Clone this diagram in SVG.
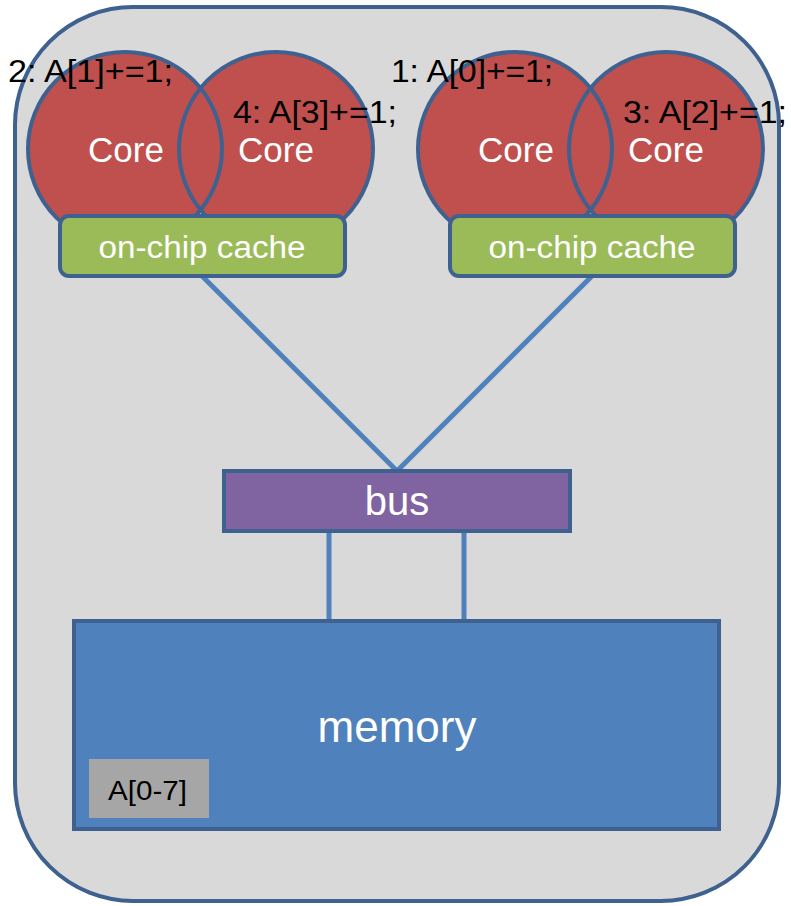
<svg xmlns="http://www.w3.org/2000/svg" width="791" height="906" viewBox="0 0 791 906">
<style>
.frame{fill:#D9D9D9;stroke:#3E6190;stroke-width:4}
.corefill{fill:#C0504D}
.coreline{fill:none;stroke:#3E6190;stroke-width:4}
.cache{fill:#9BBB59;stroke:#3E6190;stroke-width:4}
.bus{fill:#8064A2;stroke:#3E6190;stroke-width:4}
.mem{fill:#4F81BD;stroke:#3E6190;stroke-width:4}
.wire{stroke:#4F81BD;stroke-width:5;fill:none}
.wt{fill:#FFFFFF;font-family:"Liberation Sans",Arial,sans-serif;text-anchor:middle}
.bt{fill:#000000;font-family:"Liberation Sans",Arial,sans-serif}
</style>
<rect class="frame" x="15" y="7" width="764" height="894" rx="118" ry="118"/>
<g id="connectors">
<line class="wire" x1="202" y1="276" x2="397" y2="471"/>
<line class="wire" x1="592" y1="276" x2="397" y2="471"/>
<line class="wire" x1="329" y1="532" x2="329" y2="620"/>
<line class="wire" x1="464" y1="532" x2="464" y2="620"/>
</g>
<g id="chip-left">
<g id="core-2"><circle class="corefill" cx="125" cy="149" r="97"/></g>
<g id="core-4"><circle class="corefill" cx="276" cy="149" r="97"/></g>
<circle class="coreline" cx="125" cy="149" r="97"/>
<circle class="coreline" cx="276" cy="149" r="97"/>
<text class="wt" x="126" y="162" font-size="35">Core</text>
<text class="wt" x="276" y="162" font-size="35">Core</text>
<g id="cache-left">
<rect class="cache" x="60" y="216" width="285" height="60" rx="9"/>
<text class="wt" x="202" y="258" font-size="31" textLength="207" lengthAdjust="spacingAndGlyphs">on-chip cache</text>
</g>
</g>
<g id="chip-right">
<g id="core-1"><circle class="corefill" cx="515" cy="149" r="97"/></g>
<g id="core-3"><circle class="corefill" cx="666" cy="149" r="97"/></g>
<circle class="coreline" cx="515" cy="149" r="97"/>
<circle class="coreline" cx="666" cy="149" r="97"/>
<text class="wt" x="516" y="162" font-size="35">Core</text>
<text class="wt" x="666" y="162" font-size="35">Core</text>
<g id="cache-right">
<rect class="cache" x="450" y="216" width="285" height="60" rx="9"/>
<text class="wt" x="592" y="258" font-size="31" textLength="207" lengthAdjust="spacingAndGlyphs">on-chip cache</text>
</g>
</g>
<g id="labels">
<text class="bt" x="8" y="82" font-size="31" textLength="165" lengthAdjust="spacingAndGlyphs">2: A[1]+=1;</text>
<text class="bt" x="233" y="123" font-size="31" textLength="164" lengthAdjust="spacingAndGlyphs">4: A[3]+=1;</text>
<text class="bt" x="391" y="82" font-size="31" textLength="162" lengthAdjust="spacingAndGlyphs">1: A[0]+=1;</text>
<text class="bt" x="623" y="123" font-size="31" textLength="164" lengthAdjust="spacingAndGlyphs">3: A[2]+=1;</text>
</g>
<g id="bus">
<rect class="bus" x="224" y="471" width="346" height="60"/>
<text class="wt" x="397" y="515" font-size="40">bus</text>
</g>
<g id="memory">
<rect class="mem" x="74" y="621" width="645" height="208"/>
<text class="wt" x="397" y="742" font-size="44">memory</text>
<g id="array">
<rect x="89" y="759" width="120" height="59" fill="#A6A6A6"/>
<text class="bt" x="108" y="800" font-size="27" textLength="79" lengthAdjust="spacingAndGlyphs">A[0-7]</text>
</g>
</g>
</svg>
